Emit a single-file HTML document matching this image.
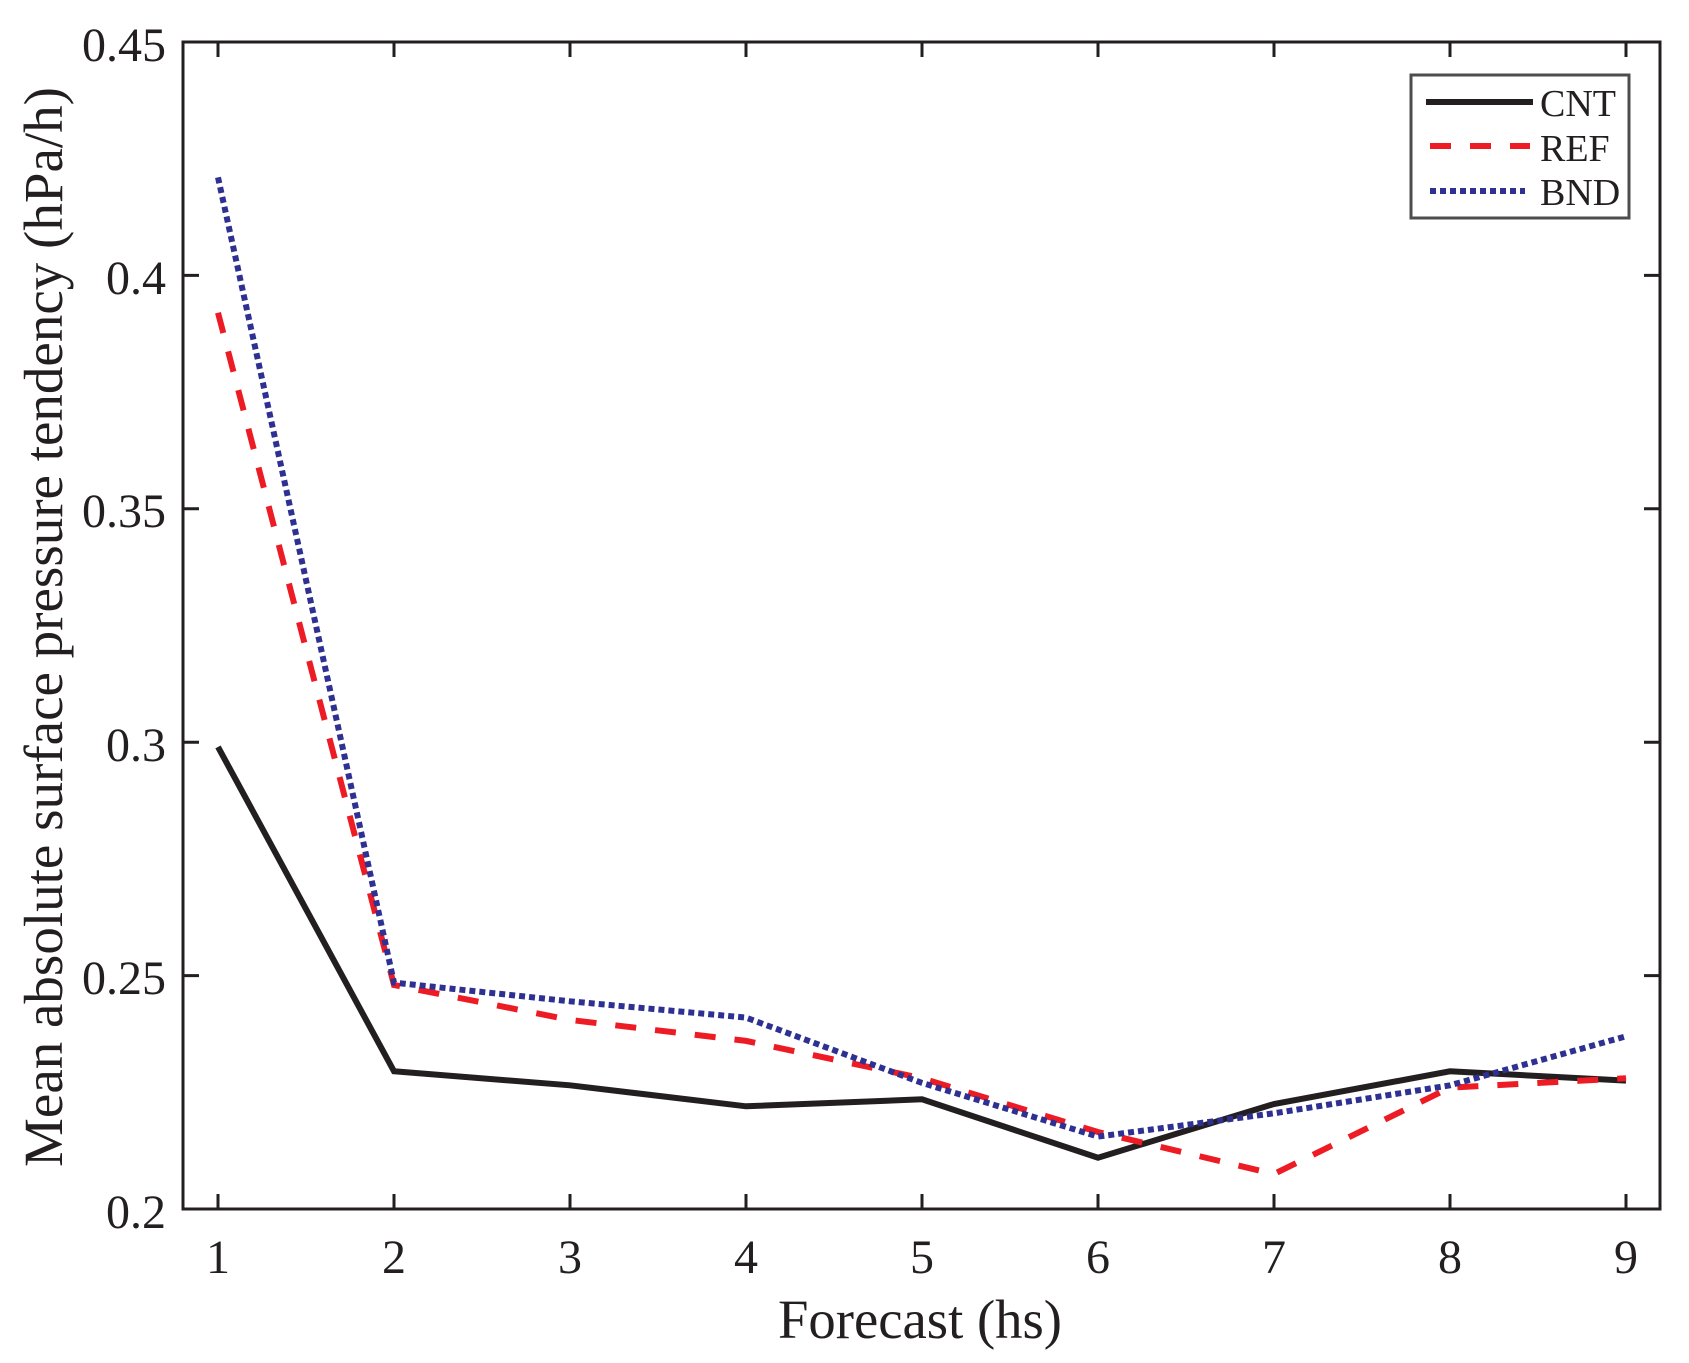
<!DOCTYPE html>
<html><head><meta charset="utf-8"><style>
html,body{margin:0;padding:0;background:#fff;}
svg{display:block;}
text{font-family:"Liberation Serif",serif;fill:#231f20;}
</style></head><body>
<svg width="1689" height="1363" viewBox="0 0 1689 1363" xmlns="http://www.w3.org/2000/svg">
<rect width="1689" height="1363" fill="#fff"/>
<!-- ticks -->
<g stroke="#231f20" stroke-width="3">
<path d="M218 1209v-15M394 1209v-15M570 1209v-15M746 1209v-15M922 1209v-15M1098 1209v-15M1274 1209v-15M1450 1209v-15M1626 1209v-15"/>
<path d="M218 42v15M394 42v15M570 42v15M746 42v15M922 42v15M1098 42v15M1274 42v15M1450 42v15M1626 42v15"/>
<path d="M183 975.6h16M183 742.2h16M183 508.8h16M183 275.4h16M1660 975.6h-16M1660 742.2h-16M1660 508.8h-16M1660 275.4h-16"/>
</g>
<!-- series -->
<g fill="none" stroke-linejoin="miter">
<polyline stroke="#231f20" stroke-width="6" points="218,746.9 394,1071.3 570,1085.3 746,1106.3 922,1099.3 1098,1157.7 1274,1104 1450,1071.3 1626,1080.6"/>
<polyline stroke="#ed1c24" stroke-width="6" stroke-dasharray="21,19" points="218,312.7 394,985 570,1019.9 746,1040.9 922,1078.3 1098,1132 1274,1174 1450,1087.6 1626,1078.3"/>
<polyline stroke="#2e3192" stroke-width="6" stroke-dasharray="6,4" points="218,177.4 394,982.6 570,1001.3 746,1017.6 922,1082.9 1098,1136.6 1274,1113.3 1450,1085.3 1626,1036.3"/>
</g>
<rect x="183" y="42" width="1477" height="1167" fill="none" stroke="#231f20" stroke-width="3"/>
<!-- legend -->
<rect x="1411" y="75" width="218" height="143" fill="#fff" stroke="#4d4d4f" stroke-width="3"/>
<line x1="1426" y1="102" x2="1533" y2="102" stroke="#231f20" stroke-width="6"/>
<line x1="1430" y1="146" x2="1530" y2="146" stroke="#ed1c24" stroke-width="6" stroke-dasharray="21,19"/>
<line x1="1430" y1="191" x2="1525" y2="191" stroke="#2e3192" stroke-width="6" stroke-dasharray="6,4"/>
<g font-size="38">
<text x="1540" y="116">CNT</text>
<text x="1540" y="161">REF</text>
<text x="1540" y="205">BND</text>
</g>
<!-- tick labels -->
<g font-size="48" text-anchor="end">
<text x="166" y="1228">0.2</text>
<text x="166" y="994">0.25</text>
<text x="166" y="761">0.3</text>
<text x="166" y="527">0.35</text>
<text x="166" y="294">0.4</text>
<text x="166" y="61">0.45</text>
</g>
<g font-size="48" text-anchor="middle">
<text x="218" y="1273">1</text>
<text x="394" y="1273">2</text>
<text x="570" y="1273">3</text>
<text x="746" y="1273">4</text>
<text x="922" y="1273">5</text>
<text x="1098" y="1273">6</text>
<text x="1274" y="1273">7</text>
<text x="1450" y="1273">8</text>
<text x="1626" y="1273">9</text>
</g>
<text x="920" y="1338" font-size="55" text-anchor="middle" textLength="284" lengthAdjust="spacingAndGlyphs">Forecast (hs)</text>
<text transform="translate(62,627) rotate(-90)" font-size="55" text-anchor="middle" textLength="1080" lengthAdjust="spacingAndGlyphs">Mean absolute surface pressure tendency (hPa/h)</text>
</svg>
</body></html>
